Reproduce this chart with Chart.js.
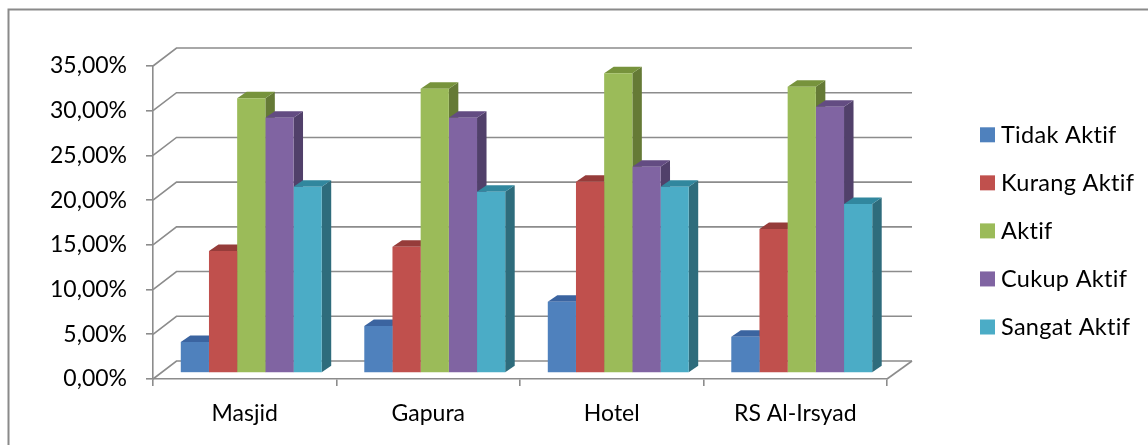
<!DOCTYPE html>
<html>
<head>
<meta charset="utf-8">
<script src="https://cdn.jsdelivr.net/npm/chart.js@4"></script>
<style>
html,body{margin:0;padding:0;background:#fff;}
#wrap{width:1148px;height:445px;position:relative;}
</style>
</head>
<body>
<div id="wrap"><canvas id="c" width="1148" height="445"></canvas></div>
<script>
const categories = ['Masjid', 'Gapura', 'Hotel', 'RS Al-Irsyad'];
const seriesNames = ['Tidak Aktif', 'Kurang Aktif', 'Aktif', 'Cukup Aktif', 'Sangat Aktif'];
const tidakAktif  = [3.47, 5.26, 7.97, 4.06];
const kurangAktif = [13.64, 14.12, 21.39, 16.10];
const aktif       = [30.72, 31.79, 33.51, 32.01];
const cukupAktif  = [28.55, 28.55, 23.07, 29.78];
const sangatAktif = [20.83, 20.27, 20.83, 18.90];
const yTicks = [0, 5, 10, 15, 20, 25, 30, 35];

const frontColors = ['#4F81BD', '#C0504D', '#9BBB59', '#8064A2', '#4BACC6'];
const topColors   = ['#3B64A0', '#963C3A', '#77933C', '#634C82', '#31879E'];
const sideColors  = ['#30507F', '#7A2F2D', '#657A36', '#51406A', '#2E6C7C'];

const FONT = 'Lato, "Noto Sans", sans-serif';
const WALL_DX_L = 23.5, WALL_DX_R = 25, WALL_DY = 18;
const BAR_DX = 6.5, BAR_DY = 6;
const SIDE_DX = 9.5, SIDE_DY = 6.5;
const GRID = '#8c8c8c';

const seriesData = [tidakAktif, kurangAktif, aktif, cukupAktif, sangatAktif];

function fmt(v){ return v.toFixed(2).replace('.', ',') + '%'; }

const threeD = {
  id: 'threeD',
  beforeDatasetsDraw(chart) {
    const ctx = chart.ctx;
    const a = chart.chartArea;
    const ys = chart.scales.y;
    ctx.save();
    ctx.strokeStyle = GRID;
    ctx.lineWidth = 1.6;
    yTicks.forEach(v => {
      const yf = ys.getPixelForValue(v);
      const yb = yf - WALL_DY;
      ctx.beginPath();
      ctx.moveTo(a.left, yf);
      ctx.lineTo(a.left + WALL_DX_L, yb);
      ctx.lineTo(a.right + WALL_DX_R, yb);
      ctx.stroke();
    });
    ctx.beginPath();
    ctx.moveTo(a.right, a.bottom);
    ctx.lineTo(a.right + WALL_DX_R, a.bottom - WALL_DY);
    ctx.stroke();
    const metas = chart.data.datasets.map((d, i) => chart.getDatasetMeta(i));
    for (let c = 0; c < categories.length; c++) {
      for (let s = 0; s < metas.length; s++) {
        const el = metas[s].data[c];
        const p = el.getProps(['x', 'y', 'base', 'width'], true);
        const l = p.x - p.width / 2 + BAR_DX, r = p.x + p.width / 2 + BAR_DX;
        const t = p.y - BAR_DY, b = p.base - BAR_DY;
        ctx.fillStyle = sideColors[s];
        ctx.beginPath();
        ctx.moveTo(r, t); ctx.lineTo(r + SIDE_DX, t - SIDE_DY);
        ctx.lineTo(r + SIDE_DX, b - SIDE_DY); ctx.lineTo(r, b); ctx.closePath();
        ctx.fill();
        ctx.fillStyle = topColors[s];
        ctx.beginPath();
        ctx.moveTo(l, t); ctx.lineTo(r, t);
        ctx.lineTo(r + SIDE_DX, t - SIDE_DY); ctx.lineTo(l + SIDE_DX, t - SIDE_DY); ctx.closePath();
        ctx.fill();
      }
    }
    ctx.restore();
    ctx.save();
    ctx.translate(BAR_DX, -BAR_DY);
  },
  afterDatasetsDraw(chart) {
    chart.ctx.restore();
  },
  afterDraw(chart) {
    const ctx = chart.ctx;
    ctx.save();
    ctx.strokeStyle = '#8a8a8a';
    ctx.lineWidth = 2;
    ctx.strokeRect(8.5, 9.5, 1200, 600);
    ctx.font = '23.5px ' + FONT;
    try { ctx.letterSpacing = '0.3px'; } catch (e) {}
    try { ctx.textRendering = 'optimizeSpeed'; } catch (e) {}
    ctx.textBaseline = 'alphabetic';
    ctx.textAlign = 'left';
    const ys0 = 134.8, step = 48.05;
    seriesNames.forEach((n, i) => {
      const cy = ys0 + i * step;
      ctx.fillStyle = frontColors[i];
      ctx.fillRect(980, cy - 7.5, 15, 15);
      ctx.fillStyle = '#000';
      ctx.fillText(n, 1001, cy + 7.8);
    });
    ctx.restore();
  }
};

new Chart(document.getElementById('c'), {
  type: 'bar',
  data: {
    labels: categories,
    datasets: seriesNames.map((n, i) => ({
      label: n,
      data: seriesData[i],
      backgroundColor: frontColors[i],
      borderWidth: 0,
      barPercentage: 1,
      categoryPercentage: 0.768,
      clip: false
    }))
  },
  options: {
    responsive: false,
    animation: false,
    devicePixelRatio: 1,
    layout: { padding: { left: 0, right: 261, top: 66, bottom: 0 } },
    plugins: { legend: { display: false }, tooltip: { enabled: false } },
    scales: {
      x: {
        offset: true,
        grid: { offset: true, drawOnChartArea: false, drawTicks: true, tickLength: 7, color: GRID, lineWidth: 1.6 },
        border: { display: true, color: GRID, width: 1.6 },
        ticks: { color: '#000', font: { family: FONT, size: 23 }, padding: 13.5, maxRotation: 0 },
        afterFit(s) { s.height = 66; }
      },
      y: {
        min: 0, max: 35,
        afterBuildTicks(s) { s.ticks = yTicks.map(v => ({ value: v })); },
        grid: { drawOnChartArea: false, drawTicks: true, tickLength: 7, color: GRID, lineWidth: 1.6 },
        border: { display: true, color: GRID, width: 1.6 },
        ticks: { color: '#000', font: { family: FONT, size: 23 }, padding: 19, callback: v => fmt(v) },
        afterFit(s) { s.width = 153; }
      }
    }
  },
  plugins: [threeD]
});
</script>
</body>
</html>
